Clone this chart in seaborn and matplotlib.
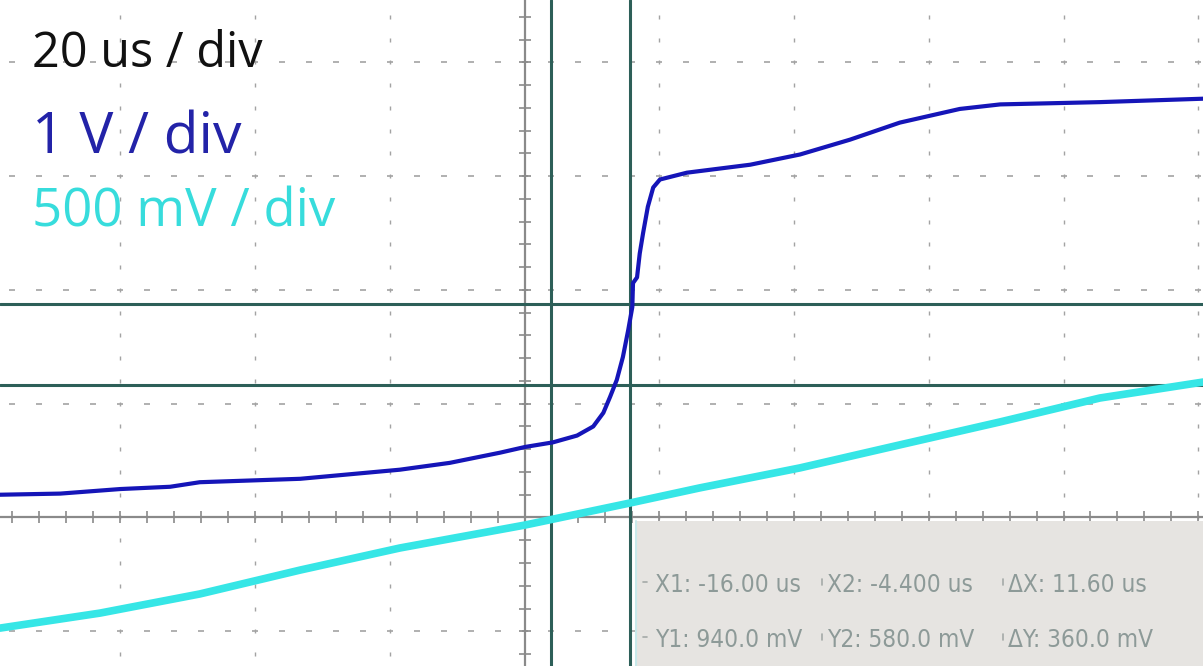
import numpy as np
import matplotlib
matplotlib.use("Agg")
import matplotlib.pyplot as plt
from matplotlib import font_manager
from matplotlib.patches import Rectangle
import seaborn as sns

# ---------------- data ----------------
# channel 1 (blue, 1 V/div): time in us, volts
blue_t = [-97.85, -88.9, -80.0, -72.6, -68.2, -53.3, -38.5, -31.1, -23.6, -19.9,
          -15.8, -12.2, -9.8, -8.3, -7.3, -6.3, -5.4, -4.6, -4.0, -3.9, -3.3,
          -2.9, -2.4, -1.7, -0.9, 0.1, 4.1, 13.5, 20.9, 28.3, 35.7, 44.6, 50.6,
          65.4, 80.7]
blue_v = [0.20, 0.21, 0.25, 0.27, 0.31, 0.34, 0.42, 0.48, 0.57, 0.62,
          0.66, 0.72, 0.80, 0.92, 1.06, 1.21, 1.41, 1.65, 1.85, 2.06, 2.11,
          2.32, 2.50, 2.73, 2.90, 2.97, 3.03, 3.10, 3.19, 3.32, 3.47, 3.59, 3.63,
          3.65, 3.68]
# channel 2 (cyan, 500 mV/div): time in us, millivolts
cyan_t = [-97.85, -83.0, -68.2, -53.3, -38.5, -19.9, -4.3, 6.0, 20.9, 35.7, 50.6, 65.4, 80.7]
cyan_mv = [-486, -420, -336, -231, -134, -33, 64, 130, 218, 319, 420, 525, 595]

# cursors
cursor_x = [-16.0, -4.4]      # us
cursor_y = [940.0, 580.0]     # mV
readout = [["X1: -16.00 us", "X2: -4.400 us", "\u0394X: 11.60 us"],
           ["Y1: 940.0 mV", "Y2: 580.0 mV", "\u0394Y: 360.0 mV"]]
scale_labels = ["20 us / div", "1 V / div", "500 mV / div"]

# ---------------- style ----------------
sns.set_theme(style="white")
names = {f.name for f in font_manager.fontManager.ttflist}
label_font = ["Open Sans", "DejaVu Sans"]
if "Liberation Sans Narrow" in names:
    readout_font = dict(family=["Liberation Sans Narrow", "DejaVu Sans"])
else:
    readout_font = dict(family=["DejaVu Sans"], stretch="condensed")

W, H = 1203, 666
fig = plt.figure(figsize=(W / 100, H / 100), dpi=100)
ax = fig.add_axes([0, 0, 1, 1])
x0, x1 = -97.85, 80.7
y0, y1 = -652.5, 2273.7
ax.set_xlim(x0, x1)
ax.set_ylim(y0, y1)
ax.set_axis_off()

gcol = "#a3a3a3"
# grid (oscilloscope dotted style)
grid_x = [-80, -60, -40, 0, 20, 40, 60, 80]
grid_y = [-500, 500, 1000, 1500, 2000]
minor_y = np.arange(-600, 2300, 100)
minor_x = np.arange(-96, 84, 4)
for gx in grid_x:
    ax.plot(np.full(len(minor_y), gx), minor_y, ls="none", marker="|",
            ms=3.5, mew=1.0, color=gcol, zorder=1)
for gy in grid_y:
    ax.plot(minor_x, np.full(len(minor_x), gy), ls="none", marker="_",
            ms=4.5, mew=1.2, color=gcol, zorder=1)
# centre axes with tick marks
ax.axvline(-20, color="#8a8a8a", lw=1.6, zorder=1)
ax.axhline(0, color="#8a8a8a", lw=1.6, zorder=1)
ax.plot(np.full(len(minor_y), -20), minor_y, ls="none", marker="_", ms=8,
        mew=1.2, color="#8a8a8a", zorder=1)
ax.plot(minor_x, np.zeros(len(minor_x)), ls="none", marker="|", ms=8,
        mew=1.2, color="#8a8a8a", zorder=1)

# cursors
ccol = "#2d5f58"
for cx in cursor_x:
    ax.axvline(cx, color=ccol, lw=2.2, zorder=3)
for cy in cursor_y:
    ax.axhline(cy, color=ccol, lw=2.2, zorder=3)

# traces
sns.lineplot(x=cyan_t, y=cyan_mv, ax=ax, color="#36e6e6", lw=5.5,
             estimator=None, sort=False, zorder=4)
sns.lineplot(x=blue_t, y=[v * 500 for v in blue_v], ax=ax, color="#1515b8",
             lw=3.0, estimator=None, sort=False, zorder=5)

# readout box
bx = -3.45
ax.add_patch(Rectangle((bx, y0), x1 - bx, -15 - y0, facecolor="#e6e4e1",
                       edgecolor="none", zorder=6))
ax.plot([bx, bx], [y0, -15], color="#c7e9ea", lw=1.5, zorder=6)
tcol = "#8d9a98"
col_px = [655, 827, 1008]
row_px = [592, 647]
for r, row in enumerate(readout):
    for c, txt in enumerate(row):
        fig.text(col_px[c] / W, 1 - row_px[r] / H, txt, fontsize=17.5,
                 color=tcol, ha="left", va="baseline", zorder=7, **readout_font)
sep_px = [643, 822, 1003]
for sx in sep_px:
    for sy in [582, 637]:
        if sx == 643:
            xs, ys = [sx / W, (sx + 4) / W], [1 - sy / H, 1 - sy / H]
        else:
            xs, ys = [sx / W, sx / W], [1 - (sy - 3) / H, 1 - (sy + 3) / H]
        fig.add_artist(plt.Line2D(xs, ys, color="#a5aaa8", lw=1.2, zorder=7))

# scale labels
fig.text(32 / W, 1 - 67 / H, scale_labels[0], fontsize=35, color="#111111",
         family=label_font, va="baseline")
fig.text(32 / W, 1 - 154 / H, scale_labels[1], fontsize=41, color="#2323a8",
         family=label_font, va="baseline")
fig.text(32 / W, 1 - 227 / H, scale_labels[2], fontsize=38, color="#37dcdc",
         family=label_font, va="baseline")

fig.savefig("out.png", dpi=100)
